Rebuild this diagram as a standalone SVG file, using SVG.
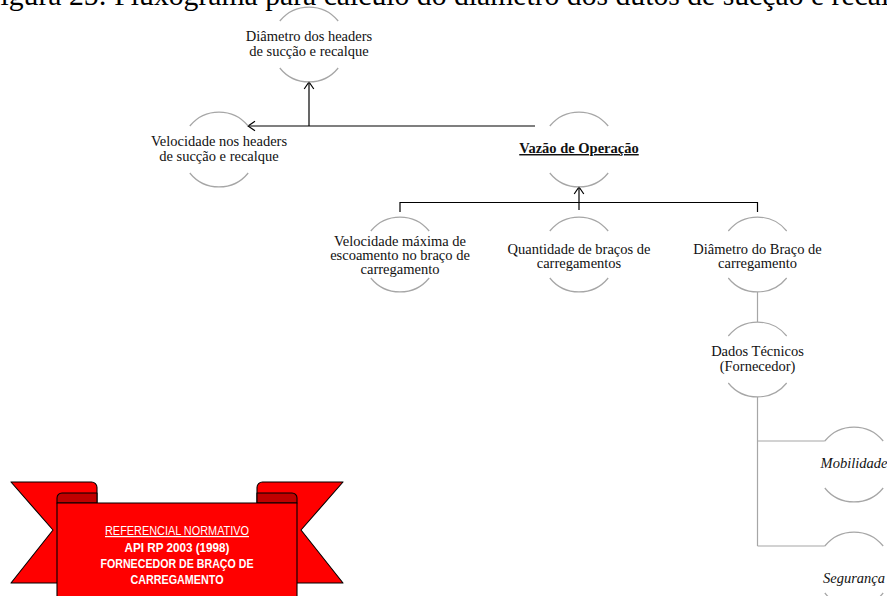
<svg xmlns="http://www.w3.org/2000/svg" xmlns:xlink="http://www.w3.org/1999/xlink" width="887" height="596" viewBox="0 0 887 596">
  <style>
    .arc { fill: none; stroke: #a6a6a6; stroke-width: 1.2; }
    .lbl { font-family: "Liberation Serif", "Times New Roman", serif; font-size: 14.5px; fill: #111; text-anchor: middle; }
    .bold { font-weight: bold; text-decoration: underline; }
    .ital { font-style: italic; }
    .link { fill: none; stroke: #000; stroke-width: 1.2; }
    .glink { fill: none; stroke: #a6a6a6; stroke-width: 1.2; }
    .title { font-family: "Liberation Serif", "Times New Roman", serif; font-size: 29.7px; fill: #000; }
    .rib { fill: #ff0000; stroke: #000; stroke-width: 1.1; stroke-linejoin: round; }
    .fold { fill: #c00000; stroke: #000; stroke-width: 1.1; stroke-linejoin: round; }
    .rtxt { font-family: "Liberation Sans", Arial, sans-serif; font-size: 12px; fill: #fff; text-anchor: middle; }
    .rb { font-weight: bold; }
  </style>
  <defs>
    <!-- open circle: upper and lower arcs, gaps at the sides -->
    <g id="ring">
      <path class="arc" d="M-29.2,-23.5 A37.5,37.5 0 0 1 29.2,-23.5"/>
      <path class="arc" d="M-29.2,23.5 A37.5,37.5 0 0 0 29.2,23.5"/>
    </g>
    <marker id="ah" viewBox="-9 -6 10 12" refX="0" refY="0" markerWidth="10" markerHeight="12" markerUnits="userSpaceOnUse" orient="auto">
      <path d="M-7,-4.8 L0,0 L-7,4.8" fill="none" stroke="#000" stroke-width="1.2"/>
    </marker>
  </defs>

  <rect width="887" height="596" fill="#fff"/>

  <!-- caption (clipped by the top edge) -->
  <text class="title" x="-16" y="4.5">Figura 25: Fluxograma para cálculo do diâmetro dos dutos de sucção e recalque</text>

  <g id="connectors">
    <path class="link" d="M535,126 H248" marker-end="url(#ah)"/>
    <path class="link" d="M309,126 V82" marker-end="url(#ah)"/>
    <path class="link" d="M579,210 V187" marker-end="url(#ah)"/>
    <path class="link" d="M400,212 V202.5 H757.5 V212"/>
    <path class="glink" d="M757.5,292 V322"/>
    <path class="glink" d="M757.5,397 V546"/>
    <path class="glink" d="M757.5,441 H824.8"/>
    <path class="glink" d="M757.5,546 H824.8"/>
  </g>

  <g id="n-diametro-headers">
    <use xlink:href="#ring" x="309" y="44.5"/>
    <text class="lbl" x="309" y="40.5">Diâmetro dos headers</text>
    <text class="lbl" x="309" y="55.5">de sucção e recalque</text>
  </g>

  <g id="n-velocidade-headers">
    <use xlink:href="#ring" x="219" y="149.5"/>
    <text class="lbl" x="219" y="146">Velocidade nos headers</text>
    <text class="lbl" x="219" y="161">de sucção e recalque</text>
  </g>

  <g id="n-vazao">
    <use xlink:href="#ring" x="579" y="149.5"/>
    <text class="lbl bold" x="579" y="153">Vazão de Operação</text>
  </g>

  <g id="n-velocidade-maxima">
    <use xlink:href="#ring" x="400" y="254.5"/>
    <text class="lbl" x="400" y="245.5">Velocidade máxima de</text>
    <text class="lbl" x="400" y="259.5">escoamento no braço de</text>
    <text class="lbl" x="400" y="273.5">carregamento</text>
  </g>

  <g id="n-quantidade">
    <use xlink:href="#ring" x="579" y="254.5"/>
    <text class="lbl" x="579" y="253.5">Quantidade de braços de</text>
    <text class="lbl" x="579" y="268">carregamentos</text>
  </g>

  <g id="n-diametro-braco">
    <use xlink:href="#ring" x="757.5" y="254.5"/>
    <text class="lbl" x="757.5" y="253.5">Diâmetro do Braço de</text>
    <text class="lbl" x="757.5" y="268">carregamento</text>
  </g>

  <g id="n-dados-tecnicos">
    <use xlink:href="#ring" x="757.5" y="359.5"/>
    <text class="lbl" x="757.5" y="356">Dados Técnicos</text>
    <text class="lbl" x="757.5" y="370.5">(Fornecedor)</text>
  </g>

  <g id="n-mobilidade">
    <use xlink:href="#ring" x="854" y="464.5"/>
    <text class="lbl ital" x="854" y="468">Mobilidade</text>
  </g>

  <g id="n-seguranca">
    <use xlink:href="#ring" x="854" y="569.5"/>
    <text class="lbl ital" x="854" y="582.5">Segurança</text>
  </g>

  <!-- red ribbon banner -->
  <g id="banner">
    <path class="rib" d="M11,482 H91.5 A5.5,5.5 0 0 1 97,487.5 V583 H11 L53,530 Z"/>
    <path class="rib" d="M343,482 H262.5 A5.5,5.5 0 0 0 257,487.5 V583 H343 L301,530 Z"/>
    <path class="fold" d="M97,493 H62 A5,5 0 0 0 57,498 V503 H97 Z"/>
    <path class="fold" d="M257,493 H292 A5,5 0 0 1 297,498 V503 H257 Z"/>
    <path class="rib" d="M57,600 V503 H297 V600"/>
    <text class="rtxt" x="177" y="535" text-decoration="underline" textLength="144" lengthAdjust="spacingAndGlyphs">REFERENCIAL NORMATIVO</text>
    <text class="rtxt rb" x="177" y="551.5" textLength="105" lengthAdjust="spacingAndGlyphs">API RP 2003 (1998)</text>
    <text class="rtxt rb" x="177" y="568" textLength="153" lengthAdjust="spacingAndGlyphs">FORNECEDOR DE BRAÇO DE</text>
    <text class="rtxt rb" x="177" y="583.5" textLength="93" lengthAdjust="spacingAndGlyphs">CARREGAMENTO</text>
  </g>
</svg>
